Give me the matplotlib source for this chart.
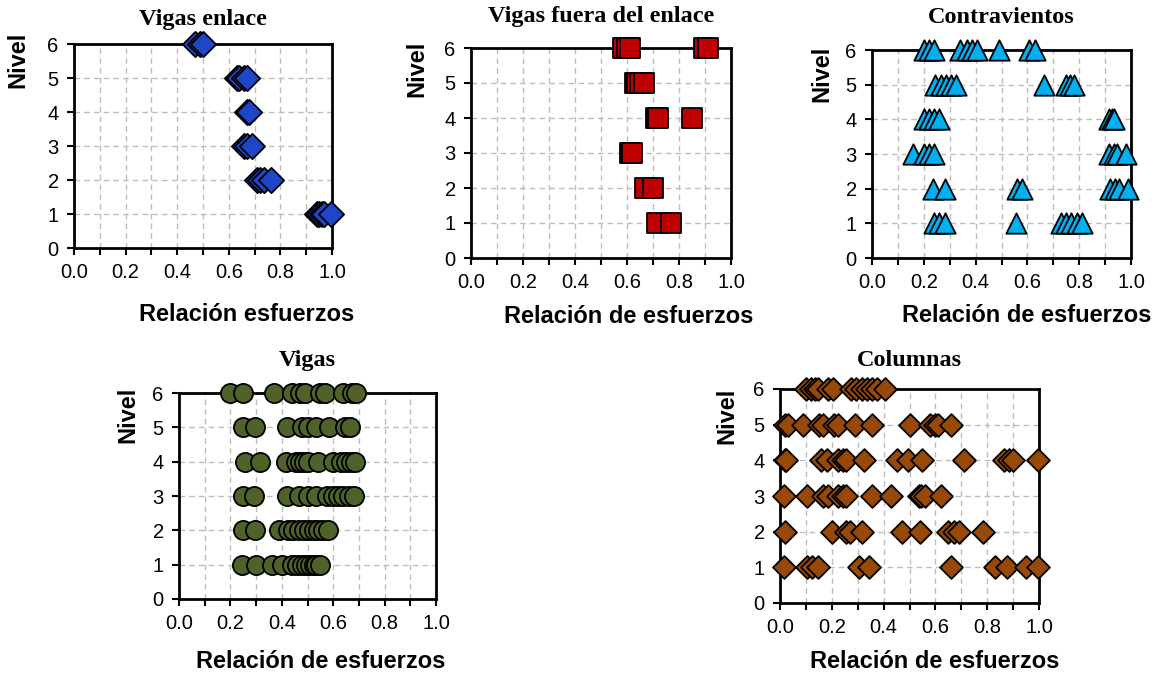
import matplotlib
matplotlib.use("Agg")
import matplotlib.pyplot as plt
from matplotlib.ticker import MultipleLocator

plt.rcParams['font.family'] = ['Liberation Sans', 'DejaVu Sans']

# Vigas enlace (level, stress ratio)
enlace_lvl = [6, 6, 6,
              5, 5, 5, 5,
              4, 4,
              3, 3, 3,
              2, 2, 2, 2,
              1, 1, 1, 1, 1]
enlace_val = [0.47, 0.49, 0.50,
              0.63, 0.64, 0.66, 0.67,
              0.67, 0.68,
              0.66, 0.67, 0.69,
              0.71, 0.72, 0.735, 0.765,
              0.94, 0.95, 0.96, 0.97, 0.995]

# Vigas fuera del enlace
fuera_lvl = [6, 6, 6, 6, 6,
             5, 5, 5, 5,
             4, 4, 4,
             3, 3,
             2, 2,
             1, 1]
fuera_val = [0.585, 0.60, 0.61, 0.895, 0.91,
             0.63, 0.64, 0.65, 0.665,
             0.71, 0.72, 0.85,
             0.61, 0.62,
             0.67, 0.70,
             0.715, 0.77]

# Contravientos
contra_lvl = [6] * 10 + [5] * 9 + [4] * 7 + [3] * 8 + [2] * 8 + [1] * 9
contra_val = [0.20, 0.22, 0.24, 0.34, 0.365, 0.385, 0.405, 0.49, 0.605, 0.63,
              0.245, 0.265, 0.285, 0.305, 0.325, 0.665, 0.75, 0.765, 0.78,
              0.20, 0.22, 0.24, 0.26, 0.915, 0.925, 0.935,
              0.16, 0.20, 0.22, 0.24, 0.915, 0.935, 0.945, 0.98,
              0.235, 0.28, 0.56, 0.58, 0.92, 0.94, 0.955, 0.99,
              0.24, 0.26, 0.28, 0.555, 0.73, 0.75, 0.77, 0.79, 0.81]

# Vigas
vigas_lvl = [6] * 11 + [5] * 9 + [4] * 13 + [3] * 12 + [2] * 12 + [1] * 12
vigas_val = [0.20, 0.25, 0.37, 0.44, 0.47, 0.49, 0.55, 0.57, 0.64, 0.675, 0.69,
             0.25, 0.295, 0.42, 0.48, 0.50, 0.535, 0.585, 0.645, 0.665,
             0.255, 0.315, 0.415, 0.455, 0.47, 0.485, 0.50, 0.54, 0.60, 0.63, 0.65, 0.67, 0.685,
             0.25, 0.29, 0.42, 0.465, 0.50, 0.535, 0.575, 0.60, 0.62, 0.64, 0.66, 0.68,
             0.25, 0.295, 0.39, 0.425, 0.445, 0.465, 0.485, 0.505, 0.525, 0.54, 0.56, 0.58,
             0.245, 0.30, 0.36, 0.40, 0.44, 0.46, 0.48, 0.495, 0.51, 0.525, 0.535, 0.55]

# Columnas
col_lvl = [6] * 13 + [5] * 14 + [4] * 16 + [3] * 13 + [2] * 11 + [1] * 11
col_val = [0.10, 0.12, 0.135, 0.145, 0.185, 0.205, 0.275, 0.295, 0.315, 0.335, 0.355, 0.375, 0.405,
           0.02, 0.03, 0.09, 0.15, 0.165, 0.21, 0.225, 0.29, 0.355, 0.50, 0.58, 0.60, 0.61, 0.66,
           0.02, 0.025, 0.16, 0.18, 0.225, 0.245, 0.255, 0.325, 0.45, 0.495, 0.55, 0.71, 0.865, 0.885, 0.90, 0.995,
           0.015, 0.105, 0.165, 0.185, 0.225, 0.245, 0.255, 0.355, 0.43, 0.535, 0.545, 0.56, 0.62,
           0.02, 0.20, 0.255, 0.27, 0.315, 0.47, 0.54, 0.65, 0.67, 0.69, 0.785,
           0.015, 0.105, 0.125, 0.145, 0.305, 0.345, 0.66, 0.83, 0.875, 0.95, 0.995]

W, H = 1159, 675
fig = plt.figure(figsize=(W / 100, H / 100), dpi=100)


def make_axes(x0, y0, x1, y1):
    # pixel box -> figure fraction
    return fig.add_axes([x0 / W, 1 - y1 / H, (x1 - x0) / W, (y1 - y0) / H])


def style_axes(ax, title, xlabel, title_pad, xlab_pos, ylab_pos):
    ax.set_xlim(0, 1.0)
    ax.set_ylim(0, 6)
    ax.xaxis.set_minor_locator(MultipleLocator(0.1))
    ax.yaxis.set_major_locator(MultipleLocator(1))
    ax.set_xticks([0.0, 0.2, 0.4, 0.6, 0.8, 1.0])
    ax.set_xticklabels(["0.0", "0.2", "0.4", "0.6", "0.8", "1.0"])
    ax.tick_params(which='both', direction='out', length=5, width=1.5,
                   labelsize=14.5, pad=6)
    ax.grid(True, which='both', axis='x', color='#BDBDBD', ls=(0, (4, 3)), lw=1)
    ax.grid(True, which='major', axis='y', color='#BDBDBD', ls=(0, (4, 3)), lw=1)
    ax.set_axisbelow(True)
    for sp in ax.spines.values():
        sp.set_linewidth(2)
    ax.set_title(title, fontsize=17.5, fontweight='bold',
                 family=['Liberation Serif', 'DejaVu Serif'], pad=title_pad)
    ax.set_xlabel(xlabel, fontsize=17, fontweight='bold', va='baseline')
    ax.xaxis.set_label_coords(*xlab_pos)
    ax.set_ylabel("Nivel", fontsize=17, fontweight='bold', va='center', ha='center')
    ax.yaxis.set_label_coords(*ylab_pos)


mk = dict(edgecolors='black', linewidths=1.3, zorder=3, clip_on=False)

ax1 = make_axes(74, 44, 332, 248)
ax1.scatter(enlace_val, enlace_lvl, marker='D', s=165, c='#1F45C9', **mk)
style_axes(ax1, "Vigas enlace", "Relación esfuerzos", 14, (0.67, -0.358), (-0.217, 0.92))

ax2 = make_axes(471, 48, 731, 258)
ax2.scatter(fuera_val, fuera_lvl, marker='s', s=215, c='#C00000', **mk)
style_axes(ax2, "Vigas fuera del enlace", "Relación de esfuerzos", 18.5, (0.608, -0.31), (-0.21, 0.90))

ax3 = make_axes(872, 50, 1131, 258)
ax3.scatter(contra_val, contra_lvl, marker='^', s=215, c='#00B0F0', **mk)
style_axes(ax3, "Contravientos", "Relación de esfuerzos", 19.5, (0.598, -0.308), (-0.193, 0.885))

ax4 = make_axes(179, 393, 436, 599)
ax4.scatter(vigas_val, vigas_lvl, marker='o', s=190, c='#4F6228', **mk)
style_axes(ax4, "Vigas", "Relación de esfuerzos", 19.5, (0.553, -0.335), (-0.20, 0.893))

ax5 = make_axes(780, 389, 1039, 603)
ax5.scatter(col_val, col_lvl, marker='D', s=135, c='#984807', **mk)
style_axes(ax5, "Columnas", "Relación de esfuerzos", 16.5, (0.598, -0.304), (-0.205, 0.874))

fig.savefig("out.png", dpi=100)
